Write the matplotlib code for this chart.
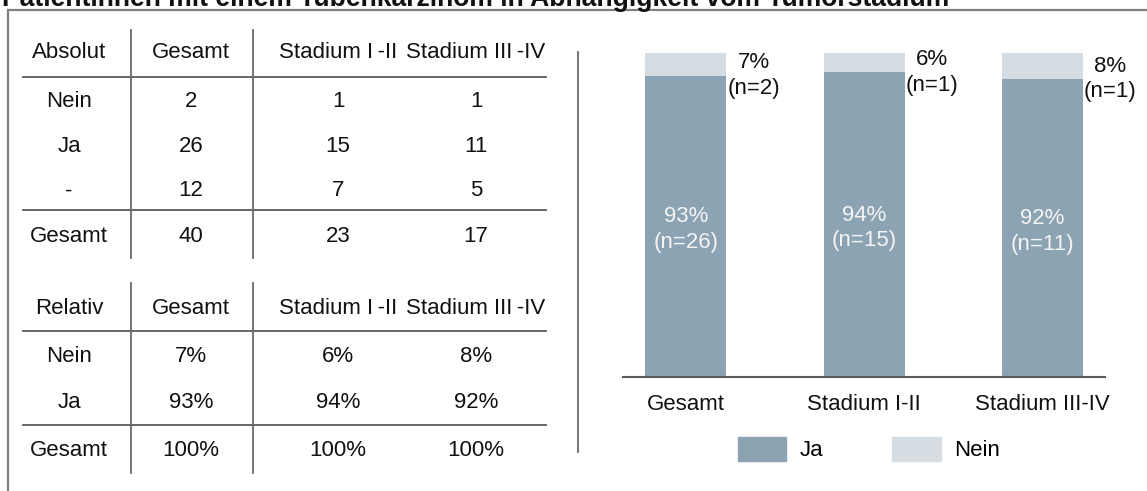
import matplotlib.pyplot as plt
from matplotlib.patches import Patch

plt.rcParams['font.family'] = ['Liberation Sans', 'DejaVu Sans']

# Daten
title = "Patientinnen mit einem Tubenkarzinom in Abhängigkeit vom Tumorstadium"
groups = ["Gesamt", "Stadium I-II", "Stadium III-IV"]
table_groups = ["Gesamt", "Stadium I\u2009-II", "Stadium III\u2009-IV"]
nein_n = [2, 1, 1]
ja_n = [26, 15, 11]
unknown_n = [12, 7, 5]
total_n = [40, 23, 17]
nein_pct = [7, 6, 8]
ja_pct = [93, 94, 92]

ja_color = "#8ca3b3"
nein_color = "#d5dde3"
text_color = "#111111"
fs = 16

W, H = 1147, 491
fig = plt.figure(figsize=(W / 100, H / 100), dpi=100)

# Zeichenfläche in Pixeln für Rahmen und Tabellen
canvas = fig.add_axes([0, 0, 1, 1])
canvas.set_xlim(0, W)
canvas.set_ylim(H, 0)
canvas.axis('off')

fig.text(2 / W, 1 - 6 / H, title, fontsize=19.1, fontweight='bold',
         ha='left', va='baseline', color=text_color)
canvas.plot([8, 8, W], [H, 10, 10], color='#808080', lw=1.6,
            solid_joinstyle='miter')

col_x = [69, 191, 338, 476]
line_color = '#5a5a5a'


def draw_table(header, rows, y_head, y_rows, y_lines, v_span):
    for x, txt in zip(col_x, header):
        canvas.text(x, y_head, txt, ha='center', va='center',
                    fontsize=fs, color=text_color)
    for y, row in zip(y_rows, rows):
        for x, txt in zip(col_x, row):
            canvas.text(x, y, txt, ha='center', va='center',
                        fontsize=fs, color=text_color)
    for y in y_lines:
        canvas.plot([23, 546], [y, y], color=line_color, lw=1.3)
    for x in [131, 253]:
        canvas.plot([x, x], v_span, color='#6a6a6a', lw=1.3)


abs_rows = [["Nein"] + [str(v) for v in nein_n],
            ["Ja"] + [str(v) for v in ja_n],
            ["-"] + [str(v) for v in unknown_n],
            ["Gesamt"] + [str(v) for v in total_n]]
draw_table(["Absolut"] + table_groups, abs_rows, 52,
           [101, 146, 191, 236], [77, 210], [30, 258])

rel_rows = [["Nein"] + [f"{v}%" for v in nein_pct],
            ["Ja"] + [f"{v}%" for v in ja_pct],
            ["Gesamt"] + [f"{a + b}%" for a, b in zip(nein_pct, ja_pct)]]
draw_table(["Relativ"] + table_groups, rel_rows, 309,
           [357, 403, 450], [331, 425], [283, 473])

# Trennlinie zwischen Tabellen und Diagramm
canvas.plot([578, 578], [52, 452], color='#6a6a6a', lw=1.3)

# Gestapeltes Säulendiagramm
ax = fig.add_axes([623 / W, 1 - 377 / H, (1105 - 623) / W, (377 - 53) / H])
x = list(range(len(groups)))
width = 0.454
ax.bar(x, ja_pct, width, color=ja_color)
ax.bar(x, nein_pct, width, bottom=ja_pct, color=nein_color)
ax.set_xlim(-0.353, 2.35)
ax.set_ylim(0, 100)

for i in x:
    ax.text(i, ja_pct[i] / 2 - 1, f"{ja_pct[i]}%\n(n={ja_n[i]})", ha='center',
            va='center', color='#f4f4f4', fontsize=fs, linespacing=1.3)
    ax.text(i + width / 2 + 0.005, ja_pct[i],
            f"{nein_pct[i]}%\n(n={nein_n[i]})", ha='left', va='center',
            multialignment='center', color=text_color, fontsize=fs,
            linespacing=1.3)

for s in ['top', 'right', 'left']:
    ax.spines[s].set_visible(False)
ax.spines['bottom'].set_color('#595959')
ax.spines['bottom'].set_linewidth(1.5)
ax.set_yticks([])
ax.set_xticks(x)
ax.set_xticklabels(groups, fontsize=fs, color=text_color)
ax.tick_params(axis='x', length=0, pad=12)

handles = [Patch(color=ja_color, label="Ja"), Patch(color=nein_color, label="Nein")]
fig.legend(handles=handles, loc='center', bbox_to_anchor=(869 / W, 1 - 449 / H),
           ncol=2, frameon=False, fontsize=fs, handlelength=2.2,
           handleheight=1.3, handletextpad=0.6, columnspacing=3.1)

fig.savefig("out.png", dpi=100)
